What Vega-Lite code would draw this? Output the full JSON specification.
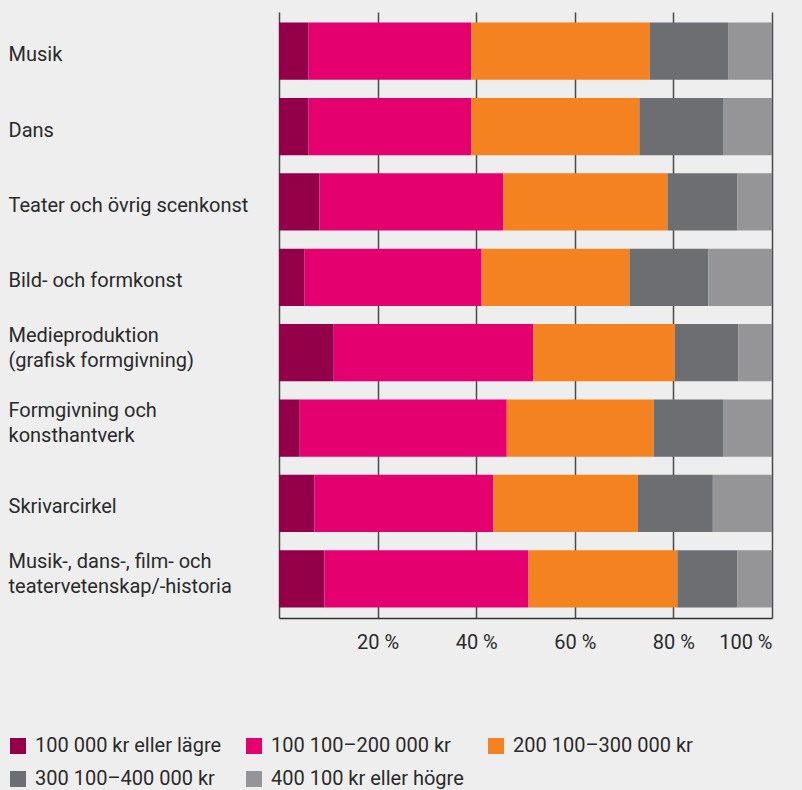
{
  "$schema": "https://vega.github.io/schema/vega-lite/v6.json",
  "background": "#eeeeee",
  "autosize": {"type": "none"},
  "padding": {"left": 279, "top": 12, "right": 30, "bottom": 172},
  "width": 493,
  "height": 606,
  "config": {
    "view": {"stroke": null},
    "font": "Roboto"
  },
  "data": {
    "values": [
      {"kat": "Musik", "grp": "100 000 kr eller lägre", "i": 1, "v": 6.0},
      {"kat": "Musik", "grp": "100 100–200 000 kr", "i": 2, "v": 33.0},
      {"kat": "Musik", "grp": "200 100–300 000 kr", "i": 3, "v": 36.2},
      {"kat": "Musik", "grp": "300 100–400 000 kr", "i": 4, "v": 16.0},
      {"kat": "Musik", "grp": "400 100 kr eller högre", "i": 5, "v": 8.8},
      {"kat": "Dans", "grp": "100 000 kr eller lägre", "i": 1, "v": 6.0},
      {"kat": "Dans", "grp": "100 100–200 000 kr", "i": 2, "v": 33.0},
      {"kat": "Dans", "grp": "200 100–300 000 kr", "i": 3, "v": 34.1},
      {"kat": "Dans", "grp": "300 100–400 000 kr", "i": 4, "v": 17.1},
      {"kat": "Dans", "grp": "400 100 kr eller högre", "i": 5, "v": 9.8},
      {"kat": "Teater och övrig scenkonst", "grp": "100 000 kr eller lägre", "i": 1, "v": 8.2},
      {"kat": "Teater och övrig scenkonst", "grp": "100 100–200 000 kr", "i": 2, "v": 37.3},
      {"kat": "Teater och övrig scenkonst", "grp": "200 100–300 000 kr", "i": 3, "v": 33.3},
      {"kat": "Teater och övrig scenkonst", "grp": "300 100–400 000 kr", "i": 4, "v": 14.2},
      {"kat": "Teater och övrig scenkonst", "grp": "400 100 kr eller högre", "i": 5, "v": 7.0},
      {"kat": "Bild- och formkonst", "grp": "100 000 kr eller lägre", "i": 1, "v": 5.2},
      {"kat": "Bild- och formkonst", "grp": "100 100–200 000 kr", "i": 2, "v": 35.9},
      {"kat": "Bild- och formkonst", "grp": "200 100–300 000 kr", "i": 3, "v": 30.0},
      {"kat": "Bild- och formkonst", "grp": "300 100–400 000 kr", "i": 4, "v": 16.0},
      {"kat": "Bild- och formkonst", "grp": "400 100 kr eller högre", "i": 5, "v": 12.9},
      {"kat": "Medieproduktion|(grafisk formgivning)", "grp": "100 000 kr eller lägre", "i": 1, "v": 11.1},
      {"kat": "Medieproduktion|(grafisk formgivning)", "grp": "100 100–200 000 kr", "i": 2, "v": 40.5},
      {"kat": "Medieproduktion|(grafisk formgivning)", "grp": "200 100–300 000 kr", "i": 3, "v": 28.7},
      {"kat": "Medieproduktion|(grafisk formgivning)", "grp": "300 100–400 000 kr", "i": 4, "v": 12.9},
      {"kat": "Medieproduktion|(grafisk formgivning)", "grp": "400 100 kr eller högre", "i": 5, "v": 6.8},
      {"kat": "Formgivning och|konsthantverk", "grp": "100 000 kr eller lägre", "i": 1, "v": 4.2},
      {"kat": "Formgivning och|konsthantverk", "grp": "100 100–200 000 kr", "i": 2, "v": 42.0},
      {"kat": "Formgivning och|konsthantverk", "grp": "200 100–300 000 kr", "i": 3, "v": 29.8},
      {"kat": "Formgivning och|konsthantverk", "grp": "300 100–400 000 kr", "i": 4, "v": 14.2},
      {"kat": "Formgivning och|konsthantverk", "grp": "400 100 kr eller högre", "i": 5, "v": 9.8},
      {"kat": "\u00a0Skrivarcirkel", "grp": "100 000 kr eller lägre", "i": 1, "v": 7.2},
      {"kat": "\u00a0Skrivarcirkel", "grp": "100 100–200 000 kr", "i": 2, "v": 36.3},
      {"kat": "\u00a0Skrivarcirkel", "grp": "200 100–300 000 kr", "i": 3, "v": 29.3},
      {"kat": "\u00a0Skrivarcirkel", "grp": "300 100–400 000 kr", "i": 4, "v": 15.2},
      {"kat": "\u00a0Skrivarcirkel", "grp": "400 100 kr eller högre", "i": 5, "v": 12.0},
      {"kat": "Musik-, dans-, film- och|teatervetenskap/-historia", "grp": "100 000 kr eller lägre", "i": 1, "v": 9.2},
      {"kat": "Musik-, dans-, film- och|teatervetenskap/-historia", "grp": "100 100–200 000 kr", "i": 2, "v": 41.4},
      {"kat": "Musik-, dans-, film- och|teatervetenskap/-historia", "grp": "200 100–300 000 kr", "i": 3, "v": 30.2},
      {"kat": "Musik-, dans-, film- och|teatervetenskap/-historia", "grp": "300 100–400 000 kr", "i": 4, "v": 12.2},
      {"kat": "Musik-, dans-, film- och|teatervetenskap/-historia", "grp": "400 100 kr eller högre", "i": 5, "v": 7.0}
    ]
  },
  "mark": {"type": "bar"},
  "encoding": {
    "y": {
      "field": "kat",
      "type": "nominal",
      "sort": null,
      "scale": {"paddingInner": 0.24, "paddingOuter": 0.14},
      "axis": {
        "title": null,
        "domain": false,
        "ticks": false,
        "grid": false,
        "labelAlign": "left",
        "labelPadding": 271,
        "labelFontSize": 20,
        "labelColor": "#2a2a2a",
        "labelLimit": 0,
        "labelLineHeight": 25,
        "labelOffset": {"condition": {"test": "indexof(datum.value, '|') >= 0", "value": -17}, "value": 4},
        "labelExpr": "split(datum.label, '|')"
      }
    },
    "x": {
      "field": "v",
      "type": "quantitative",
      "stack": "zero",
      "scale": {"domain": [0, 100], "nice": false},
      "axis": {
        "title": null,
        "values": [0, 20, 40, 60, 80, 100],
        "labelExpr": "datum.value == 0 ? '' : datum.value + ' %'",
        "labelFontSize": 20,
        "labelColor": "#2a2a2a",
        "labelPadding": 14,
        "labelDx": 4,
        "ticks": false,
        "domainColor": "#333333",
        "domainWidth": 1.5,
        "grid": true,
        "gridColor": "#4a4a4a",
        "gridWidth": 1.5,
        "gridOpacity": 1,
        "zindex": 0
      }
    },
    "color": {
      "field": "grp",
      "type": "nominal",
      "sort": null,
      "scale": {
        "domain": ["100 000 kr eller lägre", "100 100–200 000 kr", "200 100–300 000 kr", "300 100–400 000 kr", "400 100 kr eller högre"],
        "range": ["#930049", "#e5006f", "#f48221", "#6d6e71", "#959598"]
      },
      "legend": {
        "title": null,
        "orient": "none",
        "legendX": -271,
        "legendY": 724,
        "columns": 3,
        "direction": "horizontal",
        "gridAlign": "none",
        "columnPadding": 22,
        "rowPadding": 13,
        "symbolType": "square",
        "symbolSize": 256,
        "symbolStrokeWidth": 0,
        "symbolOpacity": 1,
        "labelFontSize": 20,
        "labelColor": "#2a2a2a",
        "labelOffset": 7,
        "labelLimit": 0
      }
    },
    "order": {"field": "i", "type": "quantitative"}
  }
}
